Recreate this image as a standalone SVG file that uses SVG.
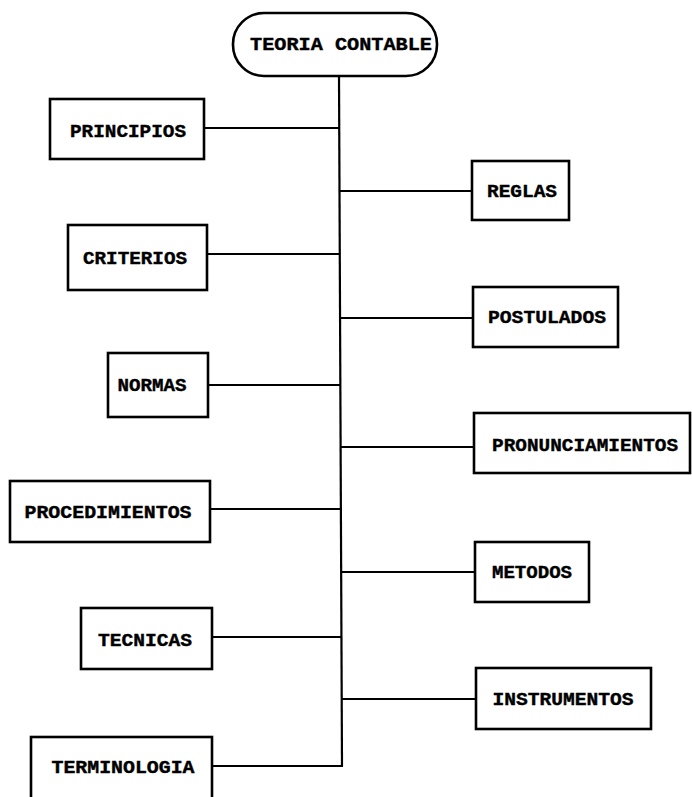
<svg xmlns="http://www.w3.org/2000/svg" width="692" height="797" viewBox="0 0 692 797">
<style>
.box{fill:#fff;stroke:#000;stroke-width:2.6}
.ln{fill:none;stroke:#000;stroke-width:2.2}
.t{font-family:"Liberation Mono",monospace;font-weight:bold;font-size:18px;fill:#000;text-anchor:middle;stroke:#000;stroke-width:0.4}
</style>
<rect width="692" height="797" fill="#fff"/>
<g id="connectors">
<line class="ln" x1="339" y1="76" x2="342" y2="767" stroke-width="2.6"/>
<line class="ln" x1="204" y1="128" x2="340" y2="128"/>
<line class="ln" x1="207" y1="254" x2="340" y2="254"/>
<line class="ln" x1="208" y1="385" x2="341" y2="385"/>
<line class="ln" x1="210" y1="509" x2="341" y2="509"/>
<line class="ln" x1="212" y1="637" x2="342" y2="637"/>
<line class="ln" x1="212" y1="766" x2="342" y2="766"/>
<line class="ln" x1="340" y1="191" x2="472" y2="191"/>
<line class="ln" x1="340" y1="318" x2="473" y2="318"/>
<line class="ln" x1="341" y1="447" x2="474" y2="447"/>
<line class="ln" x1="341" y1="572" x2="475" y2="572"/>
<line class="ln" x1="342" y1="699" x2="476" y2="699"/>
</g>
<g id="teoria">
<rect class="box" x="233" y="13" width="204" height="63" rx="31" ry="31"/>
<text class="t" x="341" y="50" textLength="182" lengthAdjust="spacingAndGlyphs">TEORIA CONTABLE</text>
</g>
<g id="principios">
<rect class="box" x="50" y="99" width="154" height="60"/>
<text class="t" x="128" y="137" textLength="116" lengthAdjust="spacingAndGlyphs">PRINCIPIOS</text>
</g>
<g id="criterios">
<rect class="box" x="68" y="225" width="139" height="65"/>
<text class="t" x="135" y="264" textLength="104" lengthAdjust="spacingAndGlyphs">CRITERIOS</text>
</g>
<g id="normas">
<rect class="box" x="108" y="353" width="100" height="64"/>
<text class="t" x="152" y="391" textLength="69" lengthAdjust="spacingAndGlyphs">NORMAS</text>
</g>
<g id="procedimientos">
<rect class="box" x="10" y="481" width="200" height="61"/>
<text class="t" x="108" y="518" textLength="167" lengthAdjust="spacingAndGlyphs">PROCEDIMIENTOS</text>
</g>
<g id="tecnicas">
<rect class="box" x="81" y="608" width="131" height="61"/>
<text class="t" x="145" y="646" textLength="94" lengthAdjust="spacingAndGlyphs">TECNICAS</text>
</g>
<g id="terminologia">
<rect class="box" x="31" y="737" width="181" height="70"/>
<text class="t" x="123" y="773" textLength="143" lengthAdjust="spacingAndGlyphs">TERMINOLOGIA</text>
</g>
<g id="reglas">
<rect class="box" x="472" y="161" width="97" height="59"/>
<text class="t" x="522" y="197" textLength="70" lengthAdjust="spacingAndGlyphs">REGLAS</text>
</g>
<g id="postulados">
<rect class="box" x="473" y="287" width="145" height="60"/>
<text class="t" x="547" y="323" textLength="118" lengthAdjust="spacingAndGlyphs">POSTULADOS</text>
</g>
<g id="pronunciamientos">
<rect class="box" x="474" y="413" width="216" height="60"/>
<text class="t" x="585" y="451" textLength="186" lengthAdjust="spacingAndGlyphs">PRONUNCIAMIENTOS</text>
</g>
<g id="metodos">
<rect class="box" x="475" y="542" width="114" height="60"/>
<text class="t" x="532" y="578" textLength="80" lengthAdjust="spacingAndGlyphs">METODOS</text>
</g>
<g id="instrumentos">
<rect class="box" x="476" y="668" width="175" height="61"/>
<text class="t" x="563" y="705" textLength="141" lengthAdjust="spacingAndGlyphs">INSTRUMENTOS</text>
</g>
</svg>
